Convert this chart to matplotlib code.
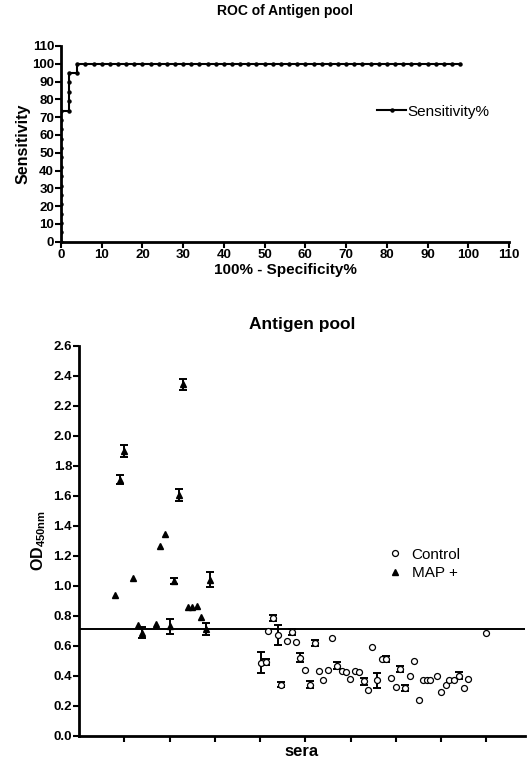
import numpy as np
from matplotlib import pyplot as plt

plt.rcParams['font.family'] = ['Liberation Sans', 'DejaVu Sans']
plt.rcParams['mathtext.default'] = 'regular'

# ROC curve of the antigen pool (100% - specificity vs sensitivity)
roc_fpr = [0, 0, 0, 0, 0, 0, 0, 0, 0, 0, 0, 0, 0, 0, 0,
           2, 2, 2, 2, 2, 4, 4,
           6, 8, 10, 12, 14, 16, 18, 20, 22, 24, 26, 28, 30, 32, 34, 36,
           38, 40, 42, 44, 46, 48, 50, 52, 54, 56, 58, 60, 62, 64, 66, 68,
           70, 72, 74, 76, 78, 80, 82, 84, 86, 88, 90, 92, 94, 96, 98]
roc_sens = [0, 5.26, 10.53, 15.79, 21.05, 26.32, 31.58, 36.84, 42.11, 47.37,
            52.63, 57.89, 63.16, 68.42, 73.68,
            73.68, 78.95, 84.21, 89.47, 94.74, 94.74, 100,
            100, 100, 100, 100, 100, 100, 100, 100, 100, 100, 100, 100, 100,
            100, 100, 100, 100, 100, 100, 100, 100, 100, 100, 100, 100, 100,
            100, 100, 100, 100, 100, 100, 100, 100, 100, 100, 100, 100, 100,
            100, 100, 100, 100, 100, 100, 100, 100]

# OD450 per serum: MAP positive sera
map_x = [8, 9, 10, 12, 13, 14, 17, 18, 19, 20, 21, 22, 23, 24, 25, 26, 27, 28, 29]
map_od = [0.94, 1.705, 1.90, 1.05, 0.736, 0.687, 0.743, 1.264, 1.342, 0.73,
          1.03, 1.604, 2.342, 0.855, 0.855, 0.862, 0.79, 0.71, 1.04]
map_err = [0, 0.03, 0.04, 0, 0, 0.035, 0, 0, 0, 0.05,
           0.02, 0.04, 0.035, 0, 0, 0, 0, 0.04, 0.05]

# control sera
ctrl_x = [40.1, 41.3, 41.8, 42.9, 44.0, 44.7, 46.0, 47.0, 47.9, 48.8, 50.0, 51.0,
          52.1, 53.0, 53.9, 55.0, 55.9, 56.9, 58.0, 58.9, 59.8, 60.9, 61.9, 63.0,
          63.9, 64.8, 65.8, 67.0, 67.9, 68.9, 70.0, 71.0, 72.0, 73.1, 73.9, 75.0,
          75.9, 76.8, 77.6, 79.0, 79.9, 81.0, 81.7, 82.8, 84.0, 85.1, 86.0, 90.0]
ctrl_od = [0.486, 0.49, 0.70, 0.788, 0.67, 0.34, 0.63, 0.69, 0.624, 0.52, 0.44, 0.34,
           0.62, 0.43, 0.37, 0.436, 0.654, 0.468, 0.43, 0.425, 0.378, 0.434, 0.427, 0.362,
           0.306, 0.593, 0.37, 0.513, 0.513, 0.385, 0.325, 0.448, 0.318, 0.396, 0.497, 0.24,
           0.374, 0.374, 0.374, 0.396, 0.29, 0.34, 0.374, 0.374, 0.40, 0.318, 0.38, 0.687]
ctrl_err = [0.07, 0.02, 0, 0.02, 0.065, 0.015, 0, 0.02, 0, 0.03, 0, 0.025,
            0.02, 0, 0, 0, 0, 0.025, 0, 0, 0, 0, 0, 0.025,
            0, 0, 0.05, 0, 0.02, 0, 0, 0.02, 0.02, 0, 0, 0,
            0, 0, 0, 0, 0, 0, 0, 0, 0.025, 0, 0, 0]

cutoff = 0.714

fig = plt.figure(figsize=(5.3, 7.61), dpi=100)

# ---- ROC panel ----
ax1 = fig.add_axes([0.1151, 0.6824, 0.8453, 0.2572])
ax1.plot(roc_fpr, roc_sens, color='black', lw=1.5, marker='o', ms=2.2,
         label='Sensitivity%')
ax1.set_xlim(0, 110)
ax1.set_ylim(0, 110)
ax1.set_xticks(np.arange(0, 111, 10))
ax1.set_yticks(np.arange(0, 111, 10))
ax1.set_title('ROC of Antigen pool', fontsize=10, fontweight='bold', pad=22)
ax1.set_xlabel('100% - Specificity%', fontsize=11, fontweight='bold', labelpad=2)
ax1.set_ylabel('Sensitivity', fontsize=11.5, fontweight='bold', labelpad=1)
ax1.legend(loc='center left', bbox_to_anchor=(0.675, 0.665), frameon=False,
           fontsize=11, handlelength=1.9, handletextpad=0.1)

# ---- OD panel ----
ax2 = fig.add_axes([0.149, 0.0332, 0.8415, 0.5125])
ax2.axhline(cutoff, color='black', lw=1.4)
for xs, ys, es in [(map_x, map_od, map_err), (ctrl_x, ctrl_od, ctrl_err)]:
    bx = [x for x, e in zip(xs, es) if e > 0]
    by = [y for y, e in zip(ys, es) if e > 0]
    be = [e for e in es if e > 0]
    ax2.errorbar(bx, by, yerr=be, fmt='none', ecolor='black', elinewidth=1.4,
                 capsize=3.2, capthick=1.4)
ax2.plot(ctrl_x, ctrl_od, 'o', ms=4.3, mfc='white', mec='black', mew=0.9,
         ls='none', label='Control')
ax2.plot(map_x, map_od, '^', ms=4.3, color='black', ls='none', label='MAP +')
ax2.set_xlim(0, 98.5)
ax2.set_ylim(0, 2.6)
ax2.set_xticks(np.arange(10, 91, 10))
ax2.set_xticklabels([])
ax2.set_yticks(np.arange(0, 2.61, 0.2))
ax2.set_yticklabels(['%.1f' % v for v in np.arange(0, 2.61, 0.2)])
ax2.set_title('Antigen pool', fontsize=12.5, fontweight='bold', pad=12)
ax2.set_xlabel('sera', fontsize=12, fontweight='bold', labelpad=1)
ax2.set_ylabel('OD$_{450nm}$', fontsize=11.5, fontweight='bold', labelpad=4)
ax2.legend(loc='center left', bbox_to_anchor=(0.66, 0.44), frameon=False,
           fontsize=11, handlelength=1.0, handletextpad=0.6, labelspacing=0.3)

for ax in (ax1, ax2):
    for side in ('top', 'right'):
        ax.spines[side].set_visible(False)
    for side in ('left', 'bottom'):
        ax.spines[side].set_linewidth(2)
    ax.tick_params(width=1.5, length=4, direction='out', labelsize=9.5, pad=1)
    for lab in ax.get_xticklabels() + ax.get_yticklabels():
        lab.set_fontweight('bold')

plt.savefig('out.png', dpi=100)
